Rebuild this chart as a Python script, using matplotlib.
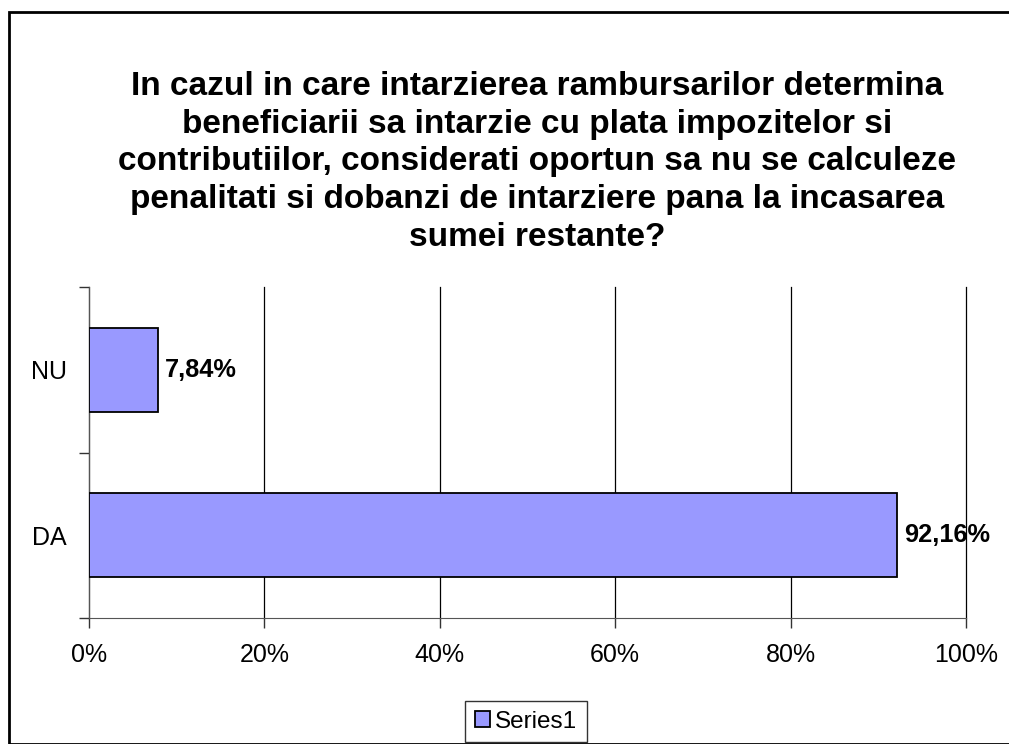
import matplotlib
matplotlib.use("Agg")
import matplotlib.pyplot as plt
from matplotlib.patches import Rectangle
from matplotlib.ticker import FuncFormatter, MultipleLocator

plt.rcParams["font.family"] = ["Liberation Sans", "DejaVu Sans"]

categories = ["DA", "NU"]
values = [92.16, 7.84]
value_labels = ["92,16%", "7,84%"]
series_name = "Series1"
title = ("In cazul in care intarzierea rambursarilor determina\n"
         "beneficiarii sa intarzie cu plata impozitelor si\n"
         "contributiilor, considerati oportun sa nu se calculeze\n"
         "penalitati si dobanzi de intarziere pana la incasarea\n"
         "sumei restante?")

W, H = 1009, 744
fig = plt.figure(figsize=(W / 100, H / 100), dpi=100)

# chart area border (right/bottom run off the picture)
fig.patches.append(Rectangle((8.5 / W, 0), 1.2, 1 - 11.5 / H, transform=fig.transFigure,
                             fill=False, edgecolor="black", lw=2, clip_on=False))

ax = fig.add_axes([89 / W, 1 - 618 / H, (966 - 89) / W, (618 - 287) / H])
ypos = list(range(len(categories)))
ax.barh(ypos, values, height=0.51, color="#9999FF", edgecolor="black", lw=1.3,
        label=series_name, zorder=3)
for y, v, t in zip(ypos, values, value_labels):
    ax.text(v + 0.8, y, t, va="center", ha="left", fontsize=18.3, fontweight="bold", zorder=4)

ax.set_xlim(0, 100)
ax.set_ylim(-0.5, len(categories) - 0.5)
ax.xaxis.set_major_locator(MultipleLocator(20))
ax.xaxis.set_major_formatter(FuncFormatter(lambda x, p: f"{x:.0f}%"))
ax.set_yticks(ypos)
ax.set_yticklabels(categories)
ax.set_yticks([-0.5, 0.5, 1.5], minor=True)
ax.tick_params(axis="y", which="major", length=0, pad=16, labelsize=18)
ax.tick_params(axis="y", which="minor", length=7, width=1, color="#333333")
ax.tick_params(axis="x", length=7, width=1, color="#333333", labelsize=18, pad=11)
ax.grid(axis="x", color="black", lw=0.9, zorder=0)
for gl in ax.get_xgridlines():
    gl.set_clip_on(False)
for s in ["top", "right"]:
    ax.spines[s].set_visible(False)
ax.spines["left"].set_color("#555555")
ax.spines["bottom"].set_color("#555555")

fig.text(537 / W, 1 - 71 / H, title, ha="center", va="top", fontsize=24,
         fontweight="bold", linespacing=1.28)

leg = fig.legend(loc="upper center", bbox_to_anchor=(526 / W, 1 - 701 / H), fontsize=17.5,
                 frameon=True, fancybox=False, edgecolor="black", handlelength=0.65,
                 handleheight=0.65, handletextpad=0.2, borderpad=0.4, borderaxespad=0)
leg.get_frame().set_linewidth(1)

fig.savefig("out.png", dpi=100)
